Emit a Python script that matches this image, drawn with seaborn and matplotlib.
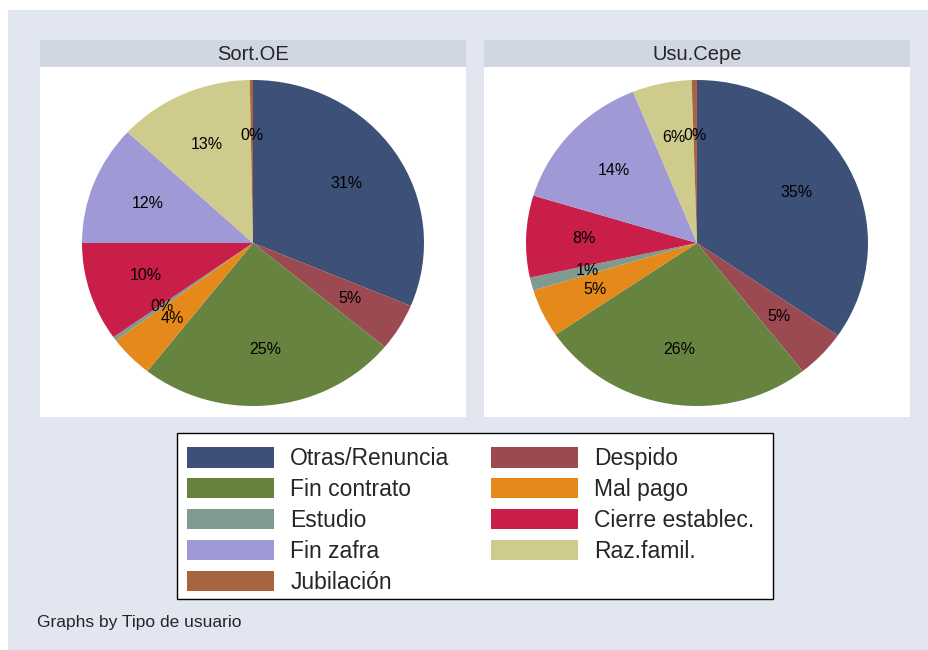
import matplotlib
matplotlib.use("Agg")
import matplotlib.pyplot as plt
import seaborn as sns

# categories in pie order (clockwise from 12 o'clock)
categories = ["Otras/Renuncia", "Despido", "Fin contrato", "Mal pago", "Estudio",
              "Cierre establec.", "Fin zafra", "Raz.famil.", "Jubilación"]
panels = ["Sort.OE", "Usu.Cepe"]
sort_oe = [31.3, 4.7, 24.6, 4.2, 0.4, 9.8, 11.9, 12.8, 0.3]
usu_cepe = [34.6, 4.8, 26.1, 4.8, 1.3, 8.1, 14.2, 5.6, 0.5]
foot_note = "Graphs by Tipo de usuario"

colors = sns.color_palette(["#3d5078", "#9c4a52", "#66843f", "#e5891a", "#7f9b8f",
                            "#c81e48", "#9f99d6", "#cfcb8c", "#a7643f"])

sns.set_style("white")
plt.rcParams["font.family"] = ["Liberation Sans", "DejaVu Sans"]

W, H = 929, 650
fig = plt.figure(figsize=(W / 100, H / 100), dpi=100)
fig.patch.set_facecolor("#e1e6f0")
# white margin at top and left, like the source image
fig.patches.append(plt.Rectangle((0, 0), 8 / W, 1, transform=fig.transFigure,
                                 facecolor="white", edgecolor="none", zorder=0))
fig.patches.append(plt.Rectangle((0, 1 - 10 / H), 1, 10 / H, transform=fig.transFigure,
                                 facecolor="white", edgecolor="none", zorder=0))


def px_axes(x0, y0, x1, y1):
    return fig.add_axes([x0 / W, 1 - y1 / H, (x1 - x0) / W, (y1 - y0) / H])


for i, (name, vals) in enumerate(zip(panels, [sort_oe, usu_cepe])):
    x0 = 40 + i * 444
    x1 = x0 + 426
    # title band
    tb = px_axes(x0, 40, x1, 67)
    tb.set_facecolor("#d0d7e3")
    tb.set_xticks([])
    tb.set_yticks([])
    for s in tb.spines.values():
        s.set_visible(False)
    tb.text(0.5, 0.48, name, ha="center", va="center", fontsize=14.5, transform=tb.transAxes)

    ax = px_axes(x0, 67, x1, 417)
    ax.set_facecolor("white")
    wedges, texts, autotexts = ax.pie(
        vals, colors=colors, startangle=90, counterclock=False,
        autopct=lambda p: f"{p:.0f}%", pctdistance=0.66,
        wedgeprops={"linewidth": 0}, textprops={"fontsize": 11.5, "color": "black"},
        frame=True)
    rx, ry = 171, 163
    cx, cy = 213, 176
    ax.set_xlim(-cx / rx, (426 - cx) / rx)
    ax.set_ylim(-(350 - cy) / ry, cy / ry)
    ax.set_aspect("auto")
    ax.set_xticks([])
    ax.set_yticks([])
    for s in ax.spines.values():
        s.set_visible(False)

# legend box (drawn separately to get Stata's padding)
fig.patches.append(plt.Rectangle((177 / W, 1 - 599 / H), 596 / W, 166 / H,
                                 transform=fig.transFigure, facecolor="white",
                                 edgecolor="black", linewidth=1.0, zorder=1))

order = [0, 2, 4, 6, 8, 1, 3, 5, 7]
leg = fig.legend([wedges[k] for k in order], [categories[k] for k in order],
                 ncol=2, loc="upper left", bbox_to_anchor=(187 / W, 1 - 447 / H),
                 fontsize=16.5, frameon=False,
                 handlelength=3.8, handleheight=1.0, handletextpad=0.7,
                 labelspacing=0.34, columnspacing=1.8, borderpad=0,
                 borderaxespad=0)
leg.set_zorder(2)

fig.text(37 / W, 1 - 623 / H, foot_note, fontsize=12.5, va="center", ha="left")

fig.savefig("out.png", dpi=100, facecolor=fig.get_facecolor())
